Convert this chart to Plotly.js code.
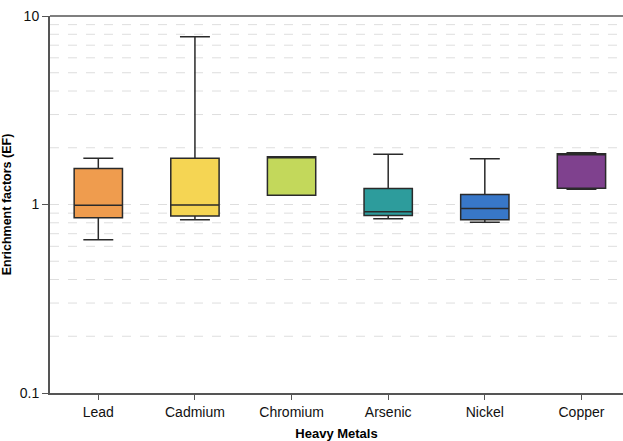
<!DOCTYPE html>
<html>
<head>
<meta charset="utf-8">
<script src="https://cdn.plot.ly/plotly-3.0.1.min.js"></script>
<style>html,body{margin:0;padding:0;background:#fff;overflow:hidden}#chart{width:623px;height:441px}</style>
</head>
<body>
<div id="chart"></div>
<script>
const metals = ["Lead", "Cadmium", "Chromium", "Arsenic", "Nickel", "Copper"];
const lowerFence = [0.65, 0.83, 1.12, 0.84, 0.805, 1.205];
const q1Values = [0.85, 0.87, 1.12, 0.875, 0.83, 1.22];
const medianValues = [0.99, 0.995, 1.79, 0.915, 0.953, 1.86];
const q3Values = [1.55, 1.76, 1.79, 1.216, 1.13, 1.86];
const upperFence = [1.76, 7.76, 1.79, 1.85, 1.75, 1.88];
const boxColors = ["#EF9C4E", "#F5D553", "#C3D85B", "#2D9C9C", "#3877C8", "#7F418E"];
const yTickVals = [0.1, 1, 10];
const yTickText = ["0.1", "1", "10"];
const gridVals = [0.2,0.3,0.4,0.5,0.6,0.7,0.8,0.9,1,2,3,4,5,6,7,8,9];

const traces = metals.map((m, i) => ({
  type: "box",
  name: m,
  x: [m],
  lowerfence: [lowerFence[i]],
  q1: [q1Values[i]],
  median: [medianValues[i]],
  q3: [q3Values[i]],
  upperfence: [upperFence[i]],
  fillcolor: boxColors[i],
  line: {color: "#2a2a2a", width: 1.5},
  width: 0.5,
  whiskerwidth: 0.62,
  boxpoints: false,
  showlegend: false,
  hoverinfo: "skip"
}));

const gridShapes = gridVals.map(v => ({
  type: "line", xref: "paper", yref: "y", x0: 0, x1: 1, y0: v, y1: v,
  line: {color: "#dedede", width: 1, dash: "dash"}, layer: "below"
}));
gridShapes.push({type: "line", xref: "paper", yref: "paper", x0: 0, x1: 1, y0: 1, y1: 1,
  line: {color: "#555", width: 1.5}});

const layout = {
  width: 623, height: 441,
  margin: {l: 50, r: 0, t: 16, b: 48},
  paper_bgcolor: "#fff", plot_bgcolor: "#fff",
  font: {family: "Liberation Sans, Arial, sans-serif", color: "#111", size: 14},
  shapes: gridShapes,
  xaxis: {
    type: "category",
    range: [-0.5, 5.43],
    showline: true, linecolor: "#555", linewidth: 2,
    ticks: "outside", ticklen: 5, tickcolor: "#555", tickwidth: 1,
    showgrid: false, zeroline: false,
    tickfont: {size: 14, color: "#111"},
    title: {text: "<b>Heavy Metals</b>", font: {size: 13, color: "#000"}, standoff: 18}
  },
  yaxis: {
    type: "log",
    range: [-1, 1],
    tickvals: yTickVals, ticktext: yTickText,
    showline: true, linecolor: "#555", linewidth: 2,
    ticks: "outside", ticklen: 6, tickcolor: "#555", tickwidth: 1,
    showgrid: false, zeroline: false,
    tickfont: {size: 14, color: "#111"},
    title: {text: "<b>Enrichment factors (EF)</b>", font: {size: 12.5, color: "#000"}, standoff: 16}
  }
};

Plotly.newPlot("chart", traces, layout, {displayModeBar: false, staticPlot: true});
</script>
</body>
</html>
